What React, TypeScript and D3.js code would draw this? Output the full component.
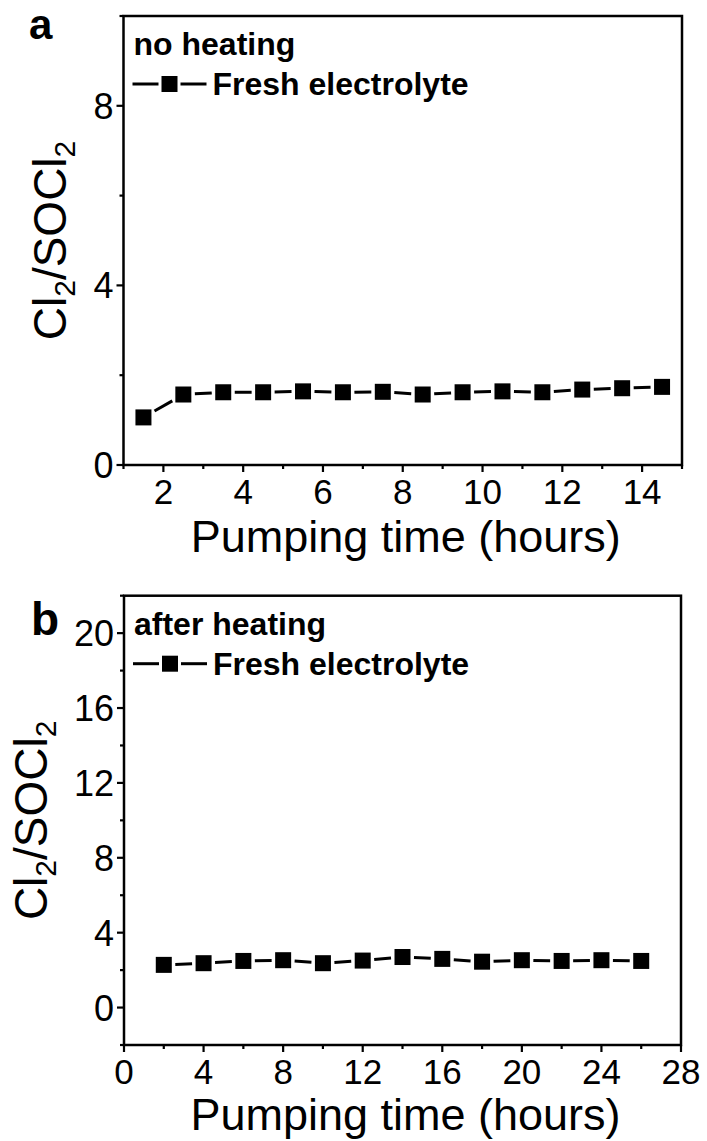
import React from "react";
import * as d3 from "d3";

// ---- Data ----
const timeA = [1.5, 2.5, 3.5, 4.5, 5.5, 6.5, 7.5, 8.5, 9.5, 10.5, 11.5, 12.5, 13.5, 14.5];
const ratioA = [1.06, 1.57, 1.62, 1.62, 1.64, 1.62, 1.63, 1.57, 1.62, 1.64, 1.62, 1.68, 1.71, 1.74];

const timeB = [2, 4, 6, 8, 10, 12, 14, 16, 18, 20, 22, 24, 26];
const ratioB = [2.28, 2.37, 2.49, 2.53, 2.37, 2.51, 2.7, 2.6, 2.45, 2.53, 2.49, 2.53, 2.49];

const xTicksA = [2, 4, 6, 8, 10, 12, 14];
const xMinorA = [1, 3, 5, 7, 9, 11, 13, 15];
const yTicksA = [0, 4, 8];
const yMinorA = [2, 6, 10];

const xTicksB = [0, 4, 8, 12, 16, 20, 24, 28];
const xMinorB = [2, 6, 10, 14, 18, 22, 26];
const yTicksB = [0, 4, 8, 12, 16, 20];
const yMinorB = [-2, 2, 6, 10, 14, 18, 22];

const FONT = "'Liberation Sans', Arial, Helvetica, sans-serif";

type PanelProps = {
  letter: string;
  letterX: number;
  letterY: number;
  letterSize: number;
  title: string;
  left: number;
  right: number;
  top: number;
  bottom: number;
  xDomain: [number, number];
  yDomain: [number, number];
  xTicks: number[];
  xMinor: number[];
  yTicks: number[];
  yMinor: number[];
  xs: number[];
  ys: number[];
  yLabelX: number;
  xTitleDy: number;
};

function Marker({ x, y, s }: { x: number; y: number; s: number }) {
  return <rect x={x - s / 2} y={y - s / 2} width={s} height={s} fill="#000" />;
}

function Panel(p: PanelProps) {
  const x = d3.scaleLinear().domain(p.xDomain).range([p.left, p.right]);
  const y = d3.scaleLinear().domain(p.yDomain).range([p.bottom, p.top]);
  const ms = 16;
  const pts = p.xs.map((v, i) => [x(v), y(p.ys[i])] as [number, number]);
  const segs: [number, number, number, number][] = [];
  for (let i = 0; i < pts.length - 1; i++) {
    const [x0, y0] = pts[i];
    const [x1, y1] = pts[i + 1];
    const dx = x1 - x0, dy = y1 - y0;
    const len = Math.hypot(dx, dy);
    const ux = dx / len, uy = dy / len;
    // stop the segment just short of the square markers
    const c0 = (ms / 2) / Math.max(Math.abs(ux), Math.abs(uy)) + 3.5;
    segs.push([x0 + ux * c0, y0 + uy * c0, x1 - ux * c0, y1 - uy * c0]);
  }
  const line = d3.line();
  const cx = (p.left + p.right) / 2 + 3;
  const cy = (p.top + p.bottom) / 2;
  const legX = p.left + 9;
  const legRowY = p.top + 68;
  return (
    <g>
      <text x={p.letterX} y={p.letterY} fontFamily={FONT} fontWeight="bold" fontSize={p.letterSize}>
        {p.letter}
      </text>
      {/* frame */}
      <rect x={p.left} y={p.top} width={p.right - p.left} height={p.bottom - p.top} fill="none" stroke="#000" strokeWidth={2.5} />
      {/* x ticks */}
      {p.xTicks.map((t) => (
        <g key={"xt" + t}>
          <line x1={x(t)} x2={x(t)} y1={p.bottom} y2={p.bottom + 7} stroke="#000" strokeWidth={2.2} />
          <text x={x(t)} y={p.bottom + 39} textAnchor="middle" fontFamily={FONT} fontSize={35}>
            {t}
          </text>
        </g>
      ))}
      {p.xMinor.map((t) => (
        <line key={"xm" + t} x1={x(t)} x2={x(t)} y1={p.bottom} y2={p.bottom + 4} stroke="#000" strokeWidth={2.2} />
      ))}
      {/* y ticks */}
      {p.yTicks.map((t) => (
        <g key={"yt" + t}>
          <line x1={p.left - 7} x2={p.left} y1={y(t)} y2={y(t)} stroke="#000" strokeWidth={2.2} />
          <text x={p.left - 10} y={y(t) + 13} textAnchor="end" fontFamily={FONT} fontSize={36}>
            {t}
          </text>
        </g>
      ))}
      {p.yMinor.map((t) => (
        <line key={"ym" + t} x1={p.left - 4} x2={p.left} y1={y(t)} y2={y(t)} stroke="#000" strokeWidth={2.2} />
      ))}
      {/* axis titles */}
      <text x={cx} y={p.bottom + p.xTitleDy} textAnchor="middle" fontFamily={FONT} fontSize={45}>
        Pumping time (hours)
      </text>
      <text
        transform={`translate(${p.yLabelX},${cy}) rotate(-90)`}
        textAnchor="middle"
        fontFamily={FONT}
        fontSize={46}
      >
        Cl<tspan fontSize={30} dy={9}>2</tspan>
        <tspan dy={-9}>/SOCl</tspan>
        <tspan fontSize={30} dy={9}>2</tspan>
      </text>
      {/* legend */}
      <text x={p.left + 10} y={p.top + 39} fontFamily={FONT} fontWeight="bold" fontSize={32}>
        {p.title}
      </text>
      <line x1={legX} x2={legX + 26} y1={legRowY} y2={legRowY} stroke="#000" strokeWidth={3} />
      <Marker x={legX + 37} y={legRowY} s={ms} />
      <line x1={legX + 48} x2={legX + 74} y1={legRowY} y2={legRowY} stroke="#000" strokeWidth={3} />
      <text x={legX + 80} y={legRowY + 11} fontFamily={FONT} fontWeight="bold" fontSize={32}>
        Fresh electrolyte
      </text>
      {/* data */}
      {segs.map((s, i) => (
        <path key={"s" + i} d={line([[s[0], s[1]], [s[2], s[3]]]) || ""} stroke="#000" strokeWidth={3} fill="none" />
      ))}
      {pts.map(([px, py], i) => (
        <Marker key={"m" + i} x={px} y={py} s={ms} />
      ))}
    </g>
  );
}

export default function App() {
  return (
    <div style={{ position: "absolute", left: 0, top: 0 }}>
      <svg width={707} height={1141} style={{ display: "block", background: "#fff" }}>
        <rect width={707} height={1141} fill="#fff" />
        <Panel
          letter="a"
          letterX={29}
          letterY={38.5}
          letterSize={42}
          title="no heating"
          left={123.5}
          right={682}
          top={16}
          bottom={465}
          xDomain={[1, 15]}
          yDomain={[0, 10]}
          xTicks={xTicksA}
          xMinor={xMinorA}
          yTicks={yTicksA}
          yMinor={yMinorA}
          xs={timeA}
          ys={ratioA}
          yLabelX={66}
          xTitleDy={87}
        />
        <Panel
          letter="b"
          letterX={31}
          letterY={635}
          letterSize={46}
          title="after heating"
          left={124}
          right={681}
          top={595.7}
          bottom={1045}
          xDomain={[0, 28]}
          yDomain={[-2, 22]}
          xTicks={xTicksB}
          xMinor={xMinorB}
          yTicks={yTicksB}
          yMinor={yMinorB}
          xs={timeB}
          ys={ratioB}
          yLabelX={47}
          xTitleDy={85}
        />
      </svg>
    </div>
  );
}
